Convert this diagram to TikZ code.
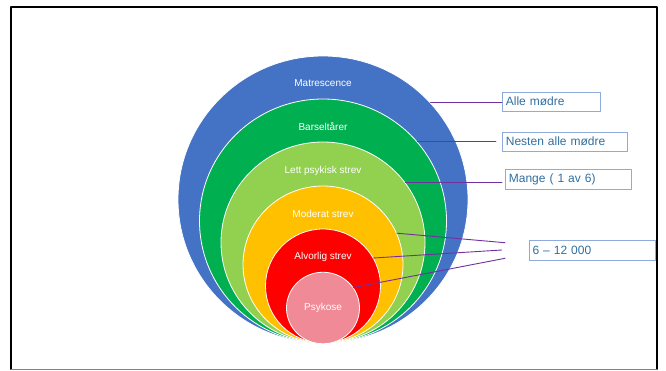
\documentclass[tikz,border=0pt]{standalone}
\usepackage{fontspec}
\setmainfont{Liberation Sans}
\usetikzlibrary{shapes.geometric,calc,positioning}
\definecolor{blaa}{HTML}{4472C4}
\definecolor{moerkgroenn}{HTML}{00B050}
\definecolor{lysgroenn}{HTML}{92D050}
\definecolor{gul}{HTML}{FFC000}
\definecolor{roed}{HTML}{FF0000}
\definecolor{rosa}{HTML}{F08A96}
\definecolor{lilla}{HTML}{7030A0}
\definecolor{boksrand}{HTML}{8FAADC}
\definecolor{bokstekst}{HTML}{2F6EA0}

\begin{document}
\begin{tikzpicture}[x=1pt,y=-1pt,line join=round,line cap=round,
  ring/.style={ellipse,inner sep=0pt,draw=white,line width=0.8pt},
  lbl/.style={text=white,font=\fontsize{10}{12}\selectfont},
  boks/.style={draw=boksrand,line width=0.8pt,text=bokstekst,font=\fontsize{12}{14}\selectfont,anchor=west,inner xsep=3.5pt,align=left},
  strek/.style={draw=lilla,line width=0.9pt}]
\useasboundingbox (0,0) rectangle (666,370);
\draw[line width=2pt] (11,369)--(11,7)--(657,7)--(657,369);
\draw[gray,line width=1pt] (11,369)--(657,369);
\foreach \n/\f/\w/\h/\y/\d/\t in {blue/blaa/290/287/199.5/28/Matrescence,dgreen/moerkgroenn/247/244/221/28/Barseltårer,lgreen/lysgroenn/204/201/242.5/29/Lett psykisk strev,yellow/gul/160/157/264.5/28/Moderat strev,red/roed/115/114/286/28/Alvorlig strev,pink/rosa/73/71.5/308/35.75/Psykose}{
  \node[ring,fill=\f,minimum width=\w pt,minimum height=\h pt] (\n) at (323,\y) {};
  \node[lbl] (\n-t) at ($(\n.north)+(0,\d)$) {\t};}
\node[boks,text width=91pt,minimum height=19pt] (alle) at (502,101.5) {Alle mødre};
\node[boks,text width=118pt,minimum height=19pt] (nesten) at (502,141.5) {Nesten alle mødre};
\node[boks,text width=119pt,minimum height=20pt] (mange) at (505,179) {Mange ( 1 av 6)};
\node[boks,text width=119pt,minimum height=20pt] (tall) at (528.6,250) {6 -- 12 000};
\coordinate (f1) at (505,242.7);
\coordinate (f2) at (501.7,250);
\coordinate (f3) at (505,258.3);
\draw[strek] (blue.42) -- (blue.42 -| alle.west);
\draw[strek,shorten >=6pt] (dgreen.40) -- (dgreen.40 -| nesten.west);
\draw[strek,shorten >=3pt] (lgreen.36) -- (lgreen.36 -| mange.west);
\draw[strek] (yellow.23) -- (f1) (red.29) -- (f2) (pink.34) -- (f3);
\end{tikzpicture}
\end{document}
